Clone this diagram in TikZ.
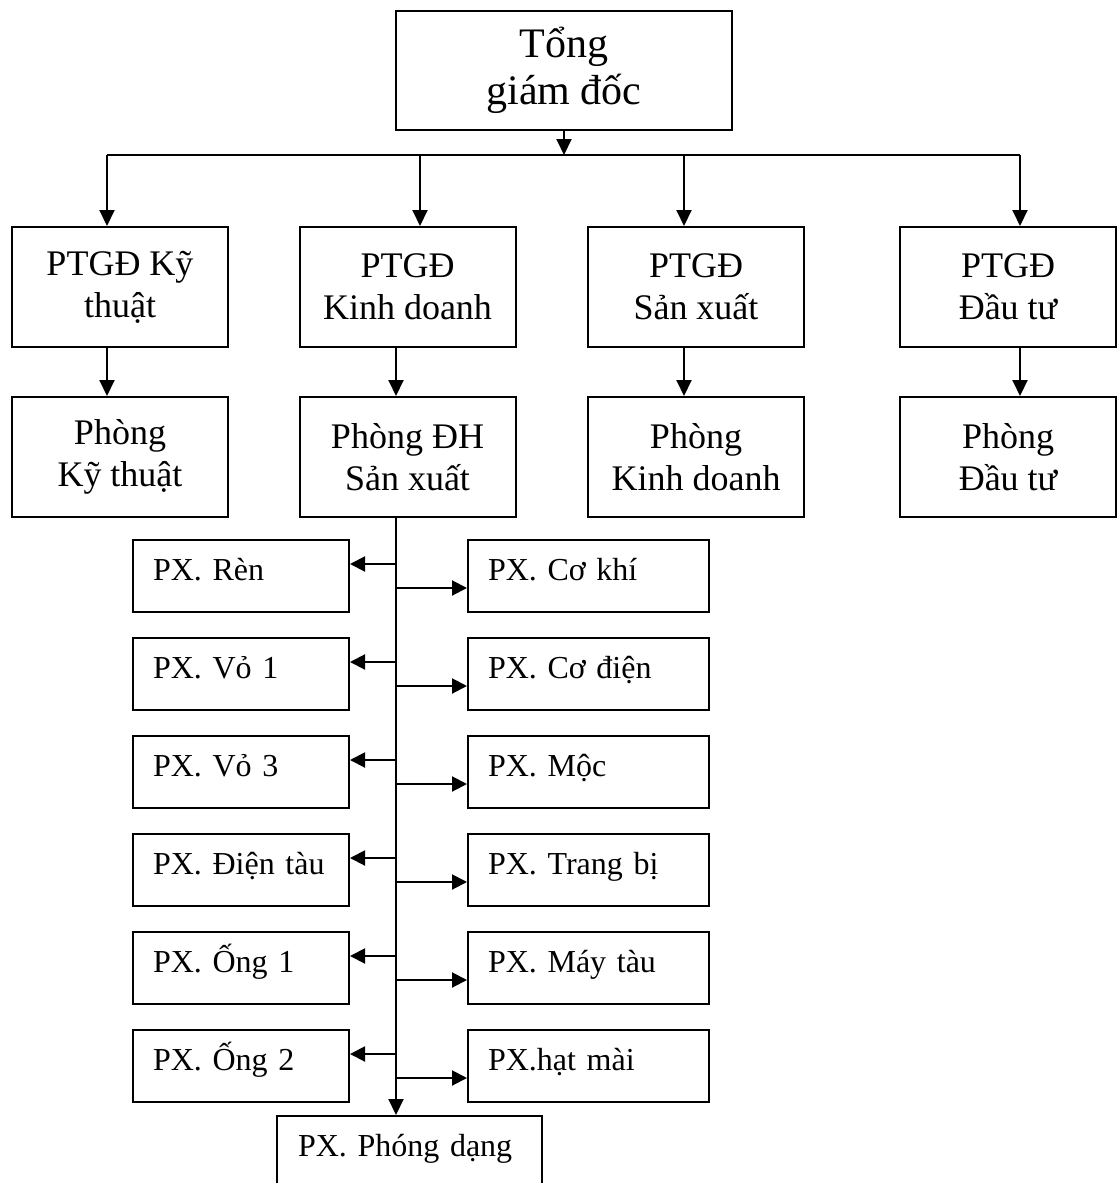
\documentclass[tikz,border=0pt]{standalone}
\usepackage{fontspec}
\setmainfont{Liberation Serif}
\usetikzlibrary{arrows.meta,positioning}
\frenchspacing

\begin{document}
\begin{tikzpicture}[x=0.5pt, y=-0.5pt,
  boss/.style={rectangle, draw, line width=1pt, inner sep=0pt,
               minimum width=168pt, minimum height=59.5pt,
               align=center, font=\fontsize{21}{23.5}\selectfont},
  dept/.style={rectangle, draw, line width=1pt, inner sep=0pt,
               minimum width=108pt, minimum height=60pt,
               align=center, font=\fontsize{18}{21}\selectfont},
  pxbox/.style={rectangle, draw, line width=1pt, inner xsep=10pt, inner ysep=0pt,
                text width=88pt, text height=20pt, text depth=16pt,
                align=left, font=\fontsize{16}{19}\selectfont\frenchspacing},
  pxwide/.style={pxbox, text width=100.5pt},
  link/.style={line width=1pt},
  down/.style={link, -{Triangle[length=8pt, width=7.5pt]}},
  side/.style={link, -{Triangle[length=7.5pt, width=7.5pt]}},
]
  \useasboundingbox (0,0) rectangle (1118,1183);

  % top level
  \node[boss] (tgd) at (564,70.5) {Tổng\\giám đốc};

  \node[dept] (ptkt) at (120,287) {PTGĐ Kỹ\\thuật};
  \node[dept] (ptkd) at (407.5,287) {PTGĐ\\Kinh doanh};
  \node[dept] (ptsx) at (696,287) {PTGĐ\\Sản xuất};
  \node[dept] (ptdt) at (1008,287) {PTGĐ\\Đầu tư};

  \node[dept, below=24pt of ptkt] (pkt) {Phòng\\Kỹ thuật};
  \node[dept, below=24pt of ptkd] (pdh) {Phòng ĐH\\Sản xuất};
  \node[dept, below=24pt of ptsx] (pkd) {Phòng\\Kinh doanh};
  \node[dept, below=24pt of ptdt] (pdt) {Phòng\\Đầu tư};

  % workshops
  \node[pxbox, anchor=north west] (ren) at (132,539) {PX. Rèn};
  \node[pxbox, below=12pt of ren] (vo1) {PX. Vỏ 1};
  \node[pxbox, below=12pt of vo1] (vo3) {PX. Vỏ 3};
  \node[pxbox, below=12pt of vo3] (dientau) {PX. Điện tàu};
  \node[pxbox, below=12pt of dientau] (ong1) {PX. Ống 1};
  \node[pxbox, below=12pt of ong1] (ong2) {PX. Ống 2};

  \node[pxwide, anchor=north west] (cokhi) at (467,539) {PX. Cơ khí};
  \node[pxwide, below=12pt of cokhi] (codien) {PX. Cơ điện};
  \node[pxwide, below=12pt of codien] (moc) {PX. Mộc};
  \node[pxwide, below=12pt of moc] (trangbi) {PX. Trang bị};
  \node[pxwide, below=12pt of trangbi] (maytau) {PX. Máy tàu};
  \node[pxwide, below=12pt of maytau] (hatmai) {PX.hạt mài};

  \node[pxbox, text width=111.5pt, inner xsep=10.5pt, text depth=40pt,
        anchor=north west] (phongdang) at (276,1115) {PX. Phóng dạng};

  % bus lines
  \coordinate (busL) at (107,155);
  \coordinate (busB) at (420,155);
  \coordinate (busC) at (684,155);
  \coordinate (busR) at (1020,155);
  \coordinate (spine) at (396,0);

  \draw[down] (tgd.south) -- (tgd.south |- busL);
  \draw[link] (busL) -- (busR);
  \draw[down] (busL) -- (busL |- ptkt.north);
  \draw[down] (busB) -- (busB |- ptkd.north);
  \draw[down] (busC) -- (busC |- ptsx.north);
  \draw[down] (busR) -- (busR |- ptdt.north);

  \draw[down] (busL |- ptkt.south) -- (busL |- pkt.north);
  \draw[down] (spine |- ptkd.south) -- (spine |- pdh.north);
  \draw[down] (busC |- ptsx.south) -- (busC |- pkd.north);
  \draw[down] (busR |- ptdt.south) -- (busR |- pdt.north);

  \draw[down] (spine |- pdh.south) -- (spine |- phongdang.north);

  \draw[side] ([yshift=6pt]spine |- ren.east) -- ([yshift=6pt]ren.east);
  \draw[side] ([yshift=6pt]spine |- vo1.east) -- ([yshift=6pt]vo1.east);
  \draw[side] ([yshift=6pt]spine |- vo3.east) -- ([yshift=6pt]vo3.east);
  \draw[side] ([yshift=6pt]spine |- dientau.east) -- ([yshift=6pt]dientau.east);
  \draw[side] ([yshift=6pt]spine |- ong1.east) -- ([yshift=6pt]ong1.east);
  \draw[side] ([yshift=6pt]spine |- ong2.east) -- ([yshift=6pt]ong2.east);

  \draw[side] ([yshift=-6pt]spine |- cokhi.west) -- ([yshift=-6pt]cokhi.west);
  \draw[side] ([yshift=-6pt]spine |- codien.west) -- ([yshift=-6pt]codien.west);
  \draw[side] ([yshift=-6pt]spine |- moc.west) -- ([yshift=-6pt]moc.west);
  \draw[side] ([yshift=-6pt]spine |- trangbi.west) -- ([yshift=-6pt]trangbi.west);
  \draw[side] ([yshift=-6pt]spine |- maytau.west) -- ([yshift=-6pt]maytau.west);
  \draw[side] ([yshift=-6pt]spine |- hatmai.west) -- ([yshift=-6pt]hatmai.west);
\end{tikzpicture}
\end{document}
